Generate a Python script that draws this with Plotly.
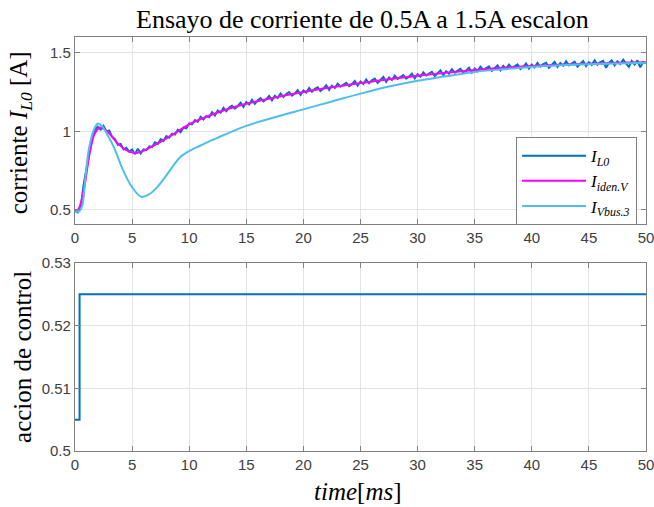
import numpy as np
import plotly.graph_objects as go

# ---------------- data ----------------
# measured current I_L0 (sampled every 0.25 ms, 0..50 ms)
I_L0 = [
    0.495,
    0.485, 0.51, 0.66, 0.76,
    0.86, 0.95, 1.01, 1.03,
    1.01, 1.035, 1.0, 1.005,
    0.965, 0.95, 0.915, 0.92,
    0.885, 0.895, 0.87, 0.885,
    0.855, 0.89, 0.86, 0.885,
    0.88, 0.905, 0.9, 0.93,
    0.92, 0.95, 0.94, 0.97,
    0.96, 0.985, 0.98, 1.01,
    0.995, 1.025, 1.02, 1.05,
    1.045, 1.072, 1.06, 1.092,
    1.075, 1.098, 1.09, 1.122,
    1.101, 1.133, 1.119, 1.15,
    1.128, 1.151, 1.163, 1.145,
    1.16, 1.182, 1.156, 1.186,
    1.171, 1.2, 1.175, 1.198,
    1.212, 1.19, 1.204, 1.225,
    1.197, 1.226, 1.212, 1.241,
    1.218, 1.238, 1.25, 1.227,
    1.241, 1.262, 1.232, 1.26,
    1.247, 1.276, 1.252, 1.271,
    1.28, 1.256, 1.272, 1.293,
    1.263, 1.29, 1.276, 1.304,
    1.284, 1.298, 1.309, 1.287,
    1.3, 1.32, 1.29, 1.317,
    1.301, 1.33, 1.306, 1.324,
    1.335, 1.308, 1.325, 1.346,
    1.315, 1.342, 1.326, 1.354,
    1.334, 1.347, 1.358, 1.335,
    1.348, 1.367, 1.337, 1.363,
    1.347, 1.375, 1.355, 1.368,
    1.379, 1.351, 1.368, 1.388,
    1.357, 1.383, 1.367, 1.395,
    1.373, 1.387, 1.397, 1.374,
    1.386, 1.405, 1.374, 1.4,
    1.383, 1.411, 1.39, 1.402,
    1.413, 1.384, 1.401, 1.42,
    1.388, 1.416, 1.397, 1.424,
    1.403, 1.417, 1.426, 1.396,
    1.41, 1.431, 1.399, 1.425,
    1.407, 1.435, 1.412, 1.427,
    1.436, 1.404, 1.422, 1.441,
    1.409, 1.434, 1.417, 1.445,
    1.42, 1.433, 1.443, 1.412,
    1.428, 1.447, 1.415, 1.44,
    1.423, 1.451, 1.424, 1.441,
    1.449, 1.404, 1.435, 1.452,
    1.42, 1.446, 1.428, 1.455,
    1.432, 1.41, 1.448, 1.425,
    1.451, 1.407, 1.442, 1.433,
]
t_L0 = np.arange(len(I_L0)) * 0.25

# identified model response I_iden.V
t_iden = [0, 0.3, 0.6, 0.9, 1.3, 1.75, 2.2, 2.9, 3.65, 4.5, 5.2, 6.1, 7.4, 8.9, 10,
          12.5, 15, 17.5, 20, 22.5, 25, 27.5, 30, 32.5, 35, 37.5, 40, 42.5, 45, 47.5, 50]
I_iden = [0.5, 0.505, 0.57, 0.68, 0.87, 0.99, 1.025, 0.995, 0.93, 0.88, 0.862, 0.88, 0.93, 0.995, 1.045,
          1.12, 1.175, 1.215, 1.25, 1.28, 1.307, 1.332, 1.353, 1.373, 1.39, 1.404, 1.415, 1.424, 1.43, 1.436, 1.44]

# model response I_Vbus.3
t_vbus = [0, 0.3, 0.6, 0.9, 1.2, 1.6, 2.0, 2.4, 2.9, 3.4, 4.2, 5.0, 5.8, 6.5, 7.2, 8.0, 9.2, 10.0,
          11, 12.5, 15, 17.5, 20, 22.5, 25, 27.5, 30, 32.5, 35, 37.5, 40, 42.5, 45, 47.5, 50]
I_vbus = [0.49, 0.49, 0.52, 0.7, 0.88, 1.0, 1.05, 1.03, 0.97, 0.9, 0.755, 0.645, 0.584, 0.6, 0.645, 0.72, 0.835, 0.875,
          0.91, 0.96, 1.035, 1.09, 1.14, 1.19, 1.24, 1.285, 1.322, 1.35, 1.378, 1.395, 1.41, 1.42, 1.427, 1.432, 1.436]

# control action
t_u = [0, 0.4, 50]
u = [0.505, 0.525, 0.525]

x_ticks = [0, 5, 10, 15, 20, 25, 30, 35, 40, 45, 50]

# ---------------- figure ----------------
C_L0 = "#0072BD"
C_IDEN = "#FF00FF"
C_VBUS = "#4DBEEE"

fig = go.Figure()
fig.add_trace(go.Scatter(x=t_L0, y=I_L0, mode="lines", line=dict(color=C_L0, width=2),
                         name="<i>I<sub>L0</sub></i>", xaxis="x", yaxis="y"))
fig.add_trace(go.Scatter(x=t_iden, y=I_iden, mode="lines", line=dict(color=C_IDEN, width=2, shape="spline"),
                         name="<i>I<sub>iden.V</sub></i>", xaxis="x", yaxis="y"))
fig.add_trace(go.Scatter(x=t_vbus, y=I_vbus, mode="lines", line=dict(color=C_VBUS, width=2, shape="spline"),
                         name="<i>I<sub>Vbus.3</sub></i>", xaxis="x", yaxis="y"))
fig.add_trace(go.Scatter(x=t_u, y=u, mode="lines", line=dict(color=C_L0, width=2, shape="hv"),
                         showlegend=False, xaxis="x2", yaxis="y2"))

axis_common = dict(
    showline=True, linecolor="#808080", linewidth=1.2, mirror="ticks",
    ticks="inside", ticklen=5, tickcolor="#808080",
    showgrid=True, gridcolor="#e3e3e3", gridwidth=1,
    zeroline=False, automargin=False,
    tickfont=dict(family="Liberation Sans, Arial, sans-serif", size=15, color="#404040"),
)

fig.update_layout(
    width=654, height=507,
    margin=dict(l=75, r=8, t=37, b=56, autoexpand=False),
    paper_bgcolor="white", plot_bgcolor="white",
    xaxis=dict(domain=[0, 1], anchor="y", range=[0, 50], tickvals=x_ticks,
               ticklabeloverflow="allow", **axis_common),
    yaxis=dict(domain=[0.548, 1], anchor="x", range=[0.41, 1.6], tickvals=[0.5, 1, 1.5],
               ticktext=["0.5", "1", "1.5"], **axis_common),
    xaxis2=dict(domain=[0, 1], anchor="y2", range=[0, 50], tickvals=x_ticks,
                ticklabeloverflow="allow", **axis_common),
    yaxis2=dict(domain=[0, 0.454], anchor="x2", range=[0.5, 0.53], tickvals=[0.5, 0.51, 0.52, 0.53],
                ticktext=["0.5", "0.51", "0.52", "0.53"], **axis_common),
    showlegend=True,
    legend=dict(x=0.984, y=0.7585, xanchor="right", yanchor="top",
                bgcolor="white", bordercolor="#808080", borderwidth=1.2,
                font=dict(family="Liberation Serif, serif", size=17, color="black"),
                itemwidth=64, tracegroupgap=0),
)

serif = "Liberation Serif, Times New Roman, serif"
fig.add_annotation(text="Ensayo de corriente de 0.5A a 1.5A escalon", xref="paper", yref="paper",
                   x=0.503, y=1.043, xanchor="center", yanchor="middle", showarrow=False,
                   font=dict(family=serif, size=26, color="black"))
fig.add_annotation(text="corriente <i>I<sub>L0</sub></i> [A]", xref="paper", yref="paper",
                   x=-0.096, y=0.768, xanchor="center", yanchor="middle", showarrow=False, textangle=-90,
                   font=dict(family=serif, size=25, color="black"))
fig.add_annotation(text="accion de control", xref="paper", yref="paper",
                   x=-0.093, y=0.227, xanchor="center", yanchor="middle", showarrow=False, textangle=-90,
                   font=dict(family=serif, size=25, color="black"))
fig.add_annotation(text="<i>time</i>[<i>ms</i>]", xref="paper", yref="paper",
                   x=0.496, y=-0.099, xanchor="center", yanchor="middle", showarrow=False,
                   font=dict(family=serif, size=25, color="black"))

# remove the default page margin so the figure sits at the window's top-left corner
fig.write_html("out.html", config={"displayModeBar": False},
               post_script="document.body.style.margin='0';document.body.style.overflow='hidden';")
